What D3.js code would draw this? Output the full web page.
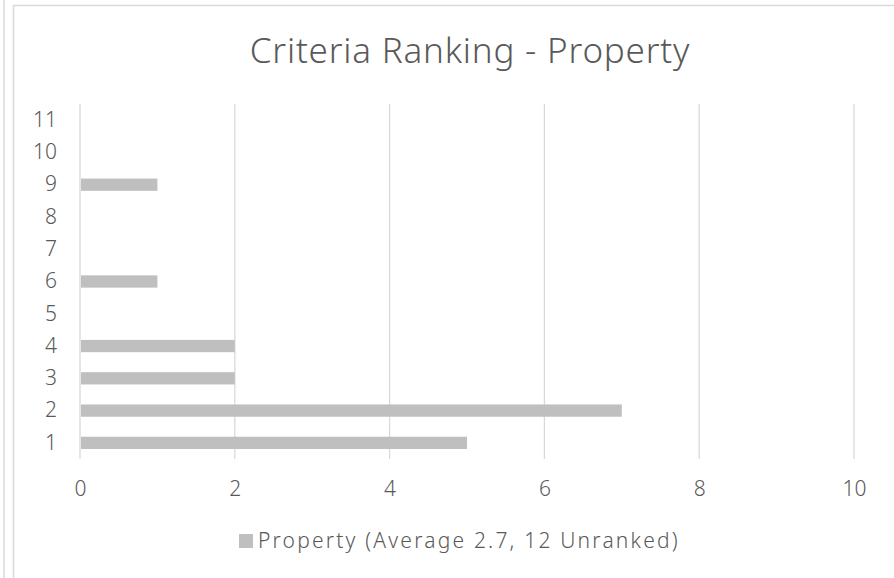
<!DOCTYPE html>
<html>
<head>
<meta charset="utf-8">
<script src="https://cdn.jsdelivr.net/npm/d3@7"></script>
<style>
  body { margin: 0; background: #fff; }
  svg text { font-family: "Noto Sans", sans-serif; fill: #595959; font-weight: 300; }
</style>
</head>
<body>
<div id="canvas"></div>
<script>
var ranks = ['1', '2', '3', '4', '5', '6', '7', '8', '9', '10', '11'];
var counts = [5, 7, 2, 2, 0, 1, 0, 0, 1, 0, 0];
var xTicks = [0, 2, 4, 6, 8, 10];
var seriesName = 'Property (Average 2.7, 12 Unranked)';
var title = 'Criteria Ranking - Property';

var W = 894, H = 578;
var m = {t: 104, r: 40, b: 119, l: 80};
var w = 854 - m.l,
    h = 459 - m.t;

var svg = d3.select('#canvas')
  .append('svg')
  .attr('width', W)
  .attr('height', H);

// borders of the cropped chart frame
svg.append('line')
  .attr('x1', 4).attr('x2', 4).attr('y1', 0).attr('y2', H)
  .attr('stroke', '#d9d9d9').attr('stroke-width', 1.5);
svg.append('path')
  .attr('d', 'M13.5,' + H + 'V5.5H' + W)
  .attr('fill', 'none')
  .attr('stroke', '#d9d9d9').attr('stroke-width', 1.5);

svg.append('text')
  .attr('x', 470)
  .attr('y', 63)
  .style('text-anchor', 'middle')
  .style('font-size', '35px')
  .style('letter-spacing', '0.8px')
  .text(title);

var plot = svg.append('g')
  .attr('transform', 'translate(' + m.l + ',' + m.t + ')');

var x = d3.scaleLinear().domain([0, 10]).range([0, w]);
var y = d3.scaleBand().domain(ranks.slice().reverse()).range([0, h])
  .paddingInner(0.62).paddingOuter(0.31);

// gridlines
plot.selectAll('.grid')
  .data(xTicks)
  .enter()
  .append('line')
  .attr('class', 'grid')
  .attr('x1', function(d) { return x(d); })
  .attr('x2', function(d) { return x(d); })
  .attr('y1', 0)
  .attr('y2', h)
  .attr('stroke', '#d9d9d9')
  .attr('stroke-width', 1.3);

// bars
var data = ranks.map(function(r, i) { return {rank: r, value: counts[i]}; });
plot.selectAll('.bar')
  .data(data)
  .enter()
  .append('rect')
  .attr('class', 'bar')
  .attr('x', x(0) + 1)
  .attr('y', function(d) { return y(d.rank); })
  .attr('width', function(d) { return Math.max(0, x(d.value) - x(0) - 1); })
  .attr('height', y.bandwidth())
  .attr('fill', '#bfbfbf');

// axes
var axisY = d3.axisLeft(y).tickSize(0).tickPadding(23);
var gy = plot.append('g').call(axisY);
gy.select('.domain').remove();
gy.selectAll('text').style('font-size', '21px').style('fill', '#595959')
  .style('font-family', '"Noto Sans", sans-serif').style('font-weight', 300);

var axisX = d3.axisBottom(x).tickValues(xTicks).tickSize(0).tickPadding(22);
var gx = plot.append('g').attr('transform', 'translate(0,' + h + ')').call(axisX);
gx.select('.domain').remove();
gx.selectAll('text').style('font-size', '21px').style('fill', '#595959')
  .style('font-family', '"Noto Sans", sans-serif').style('font-weight', 300);

// legend
var legend = svg.append('g').attr('transform', 'translate(239,534)');
legend.append('rect')
  .attr('width', 14).attr('height', 14)
  .attr('fill', '#bfbfbf');
legend.append('text')
  .attr('x', 19)
  .attr('y', 7)
  .attr('dy', '0.35em')
  .style('font-size', '21px')
  .style('letter-spacing', '2.2px')
  .text(seriesName);
</script>
</body>
</html>
